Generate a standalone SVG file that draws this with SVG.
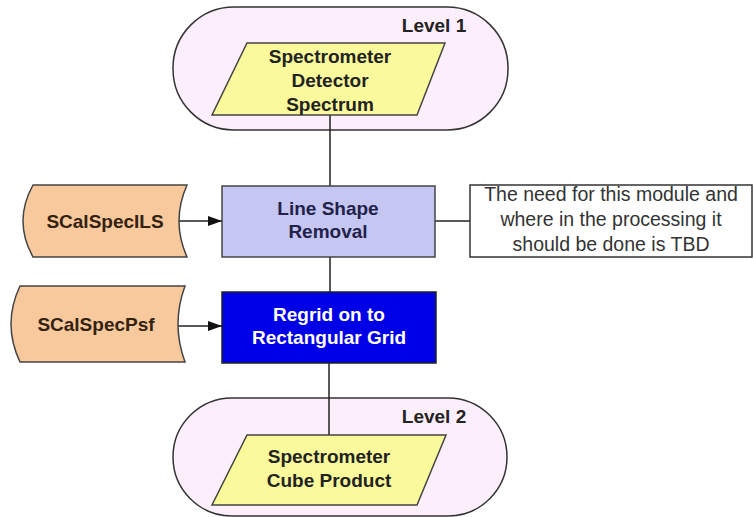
<svg xmlns="http://www.w3.org/2000/svg" width="753" height="517" viewBox="0 0 753 517">
<defs>
<marker id="arr" markerWidth="14" markerHeight="10" refX="14" refY="5" orient="auto" markerUnits="userSpaceOnUse">
<path d="M0,0 L14,5 L0,10 Z" fill="#111"/>
</marker>
<style>
.term{fill:#fceffb;stroke:#333;stroke-width:1.5}
.para{fill:#fafa9c;stroke:#444;stroke-width:1.5}
.store{fill:#f8c99c;stroke:#444;stroke-width:1.5}
.t{font-family:"Liberation Sans",Arial,sans-serif;font-weight:bold;font-size:19px;text-anchor:middle}
.n{font-family:"Liberation Sans",Arial,sans-serif;font-size:19.5px;text-anchor:middle;fill:#333}
.c{stroke:#222;stroke-width:1.5;fill:none}
</style>
</defs>
<rect width="753" height="517" fill="#fff"/>
<g id="level1">
<rect class="term" x="173" y="7" width="335" height="123" rx="61"/>
<text class="t" x="434" y="32" fill="#222">Level 1</text>
</g>
<g id="level2">
<rect class="term" x="173" y="398" width="334" height="118" rx="59"/>
<text class="t" x="434" y="423" fill="#222">Level 2</text>
</g>
<g id="connectors">
<line class="c" x1="330" y1="115" x2="330" y2="186"/>
<line class="c" x1="330" y1="257" x2="330" y2="292"/>
<line class="c" x1="329" y1="363" x2="329" y2="435"/>
<line class="c" x1="435" y1="221" x2="470" y2="221"/>
<line class="c" x1="178" y1="221" x2="222" y2="221" marker-end="url(#arr)"/>
<line class="c" x1="178" y1="326" x2="222" y2="326" marker-end="url(#arr)"/>
</g>
<g id="spectrum">
<polygon class="para" points="247,43 445,43 417,115 212,115"/>
<text class="t" x="330" y="63" fill="#222">Spectrometer</text>
<text class="t" x="330" y="87" fill="#222">Detector</text>
<text class="t" x="330" y="111" fill="#222">Spectrum</text>
</g>
<g id="lineshape">
<rect x="222" y="186" width="213" height="71" fill="#c6c6f2" stroke="#444" stroke-width="1.5"/>
<text class="t" x="328" y="215" fill="#22224a">Line Shape</text>
<text class="t" x="328" y="238" fill="#22224a">Removal</text>
</g>
<g id="ils">
<path class="store" d="M33,185 L187,185 Q171,221 187,257 L33,257 Q13,221 33,185 Z"/>
<text class="t" x="105" y="228" fill="#332211">SCalSpecILS</text>
</g>
<g id="note">
<rect x="470" y="185" width="282" height="72" fill="#fff" stroke="#333" stroke-width="1.5"/>
<text class="n" x="611" y="201">The need for this module and</text>
<text class="n" x="611" y="226">where in the processing it</text>
<text class="n" x="611" y="251">should be done is TBD</text>
</g>
<g id="regrid">
<rect x="222" y="292" width="214" height="71" fill="#0000e6" stroke="#222" stroke-width="1.5"/>
<text class="t" x="329" y="321" fill="#fff">Regrid on to</text>
<text class="t" x="329" y="344" fill="#fff">Rectangular Grid</text>
</g>
<g id="psf">
<path class="store" d="M20,286 L185,286 Q171,324 185,362 L20,362 Q2,324 20,286 Z"/>
<text class="t" x="96" y="331" fill="#332211">SCalSpecPsf</text>
</g>
<g id="cube">
<polygon class="para" points="247,435 446,435 417,505 212,505"/>
<text class="t" x="329" y="463" fill="#222">Spectrometer</text>
<text class="t" x="329" y="487" fill="#222">Cube Product</text>
</g>
</svg>
